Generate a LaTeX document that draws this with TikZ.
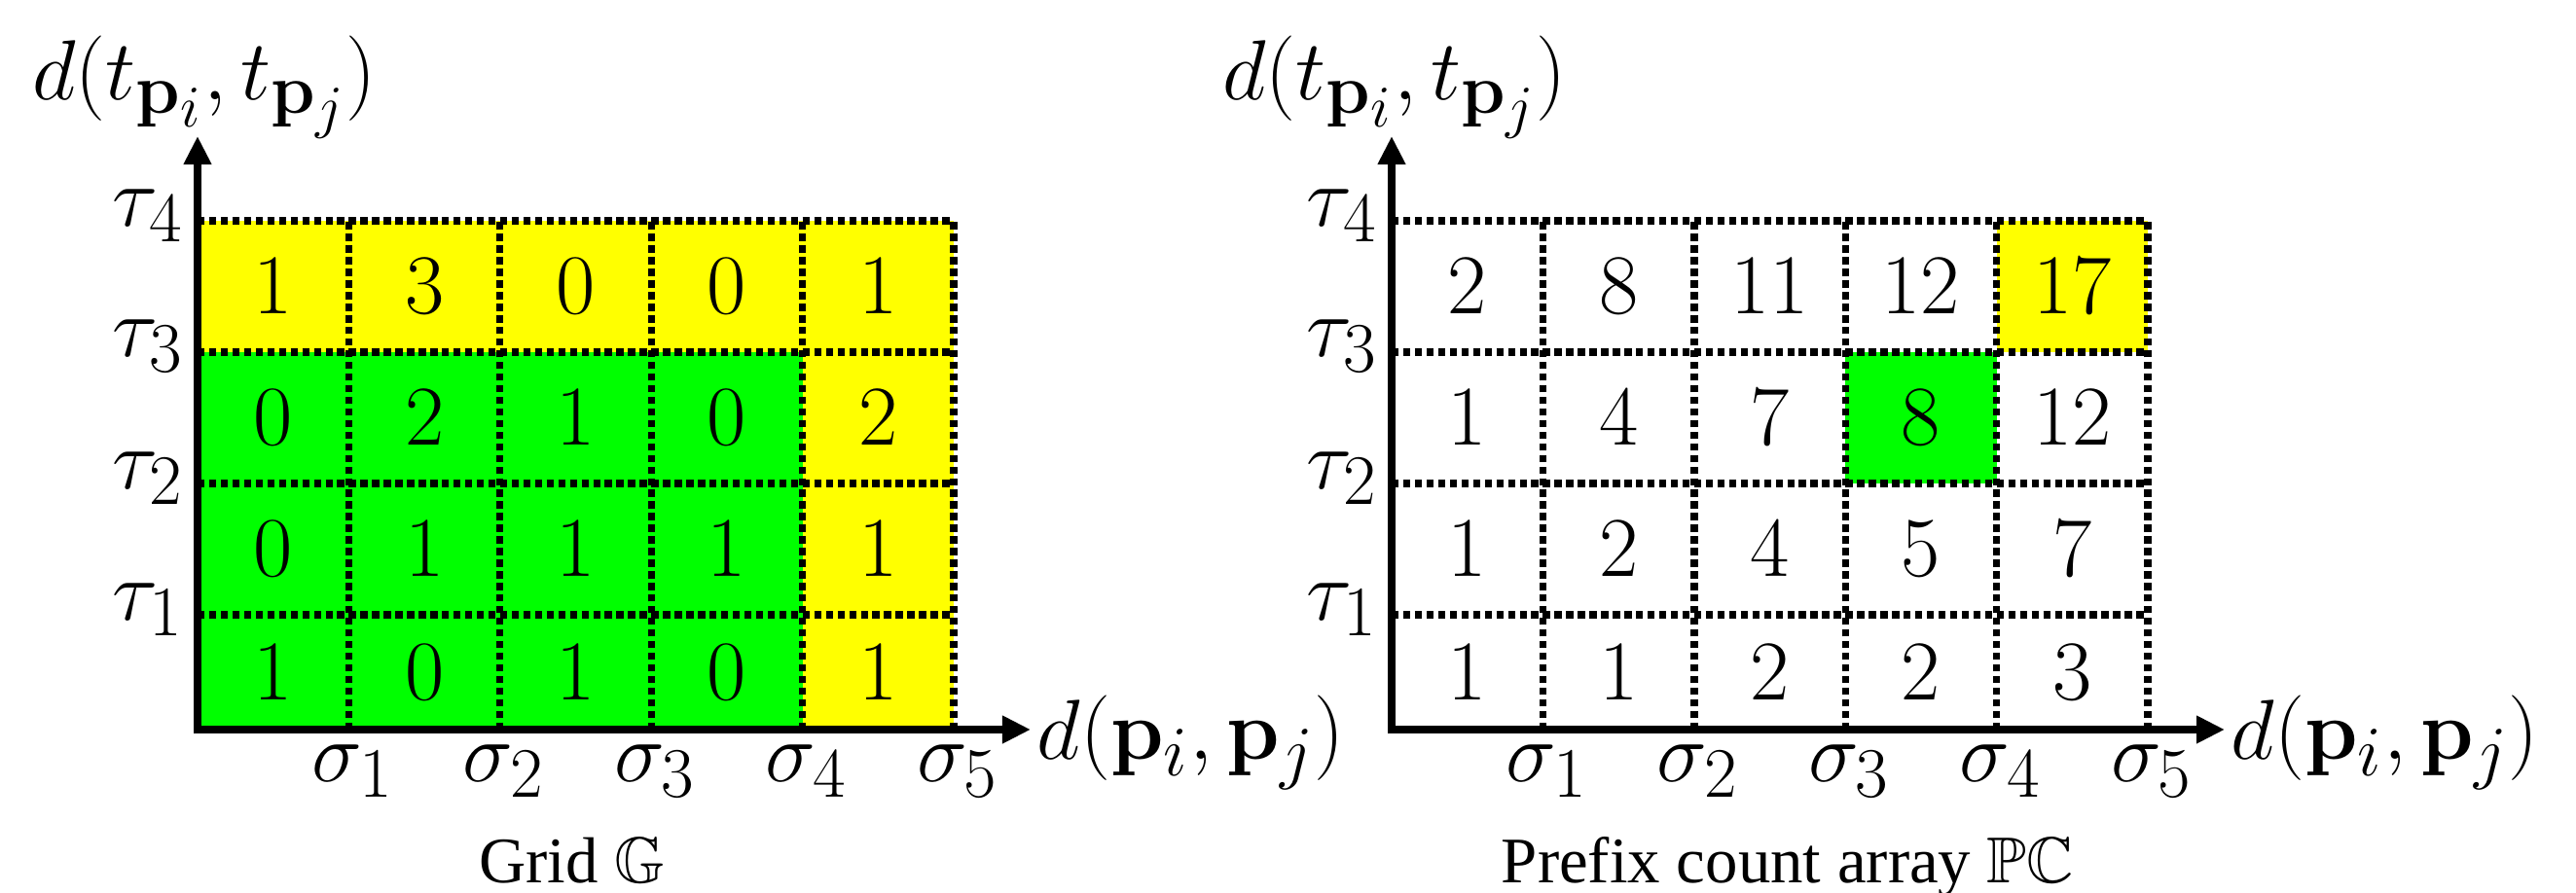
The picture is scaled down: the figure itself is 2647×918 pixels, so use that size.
\documentclass[tikz,border=0pt]{standalone}
\usepackage{amsmath,amssymb}
\usepackage[no-math]{fontspec}
\setmainfont{Liberation Serif}
\usetikzlibrary{arrows.meta}
\definecolor{cellyellow}{RGB}{255,255,0}
\definecolor{cellgreen}{RGB}{0,255,0}
\tikzset{
  lab/.style={inner sep=0pt, font=\fontsize{24.88}{29}\selectfont},
  cellnum/.style={inner sep=0pt, font=\fontsize{24.88}{29}\selectfont},
  capt/.style={inner sep=0pt, font=\fontsize{19}{23}\selectfont},
  gridline/.style={line width=2.1pt, dash pattern=on 2.1pt off 1.3pt},
  axis/.style={line width=2pt, {Triangle[length=0.29cm,width=0.27cm]}-{Triangle[length=0.29cm,width=0.27cm]}},
}
\begin{document}
\begin{tikzpicture}[x=0.01cm,y=-0.01cm]
\useasboundingbox (0,0) rectangle (2647,918);

% ---------------- Left: Grid G ----------------
\begin{scope}[shift={(203,0)}]
  \fill[cellyellow] (0,227) rectangle (777,362);
  \fill[cellyellow] (621.6,362) rectangle (777,750);
  \fill[cellgreen] (-3,362) rectangle (621.6,750);
  \foreach \k in {1,...,5} \draw[gridline] ({155.4*\k},750) -- ({155.4*\k},227);
  \foreach \yy in {632,497,362,227} \draw[gridline] (0,\yy) -- (777,\yy);
  \foreach \ym/\r/\vals in {294.5/4/{1,3,0,0,1},429.5/3/{0,2,1,0,2},564.5/2/{0,1,1,1,1},691/1/{1,0,1,0,1}}{
    \foreach \v [count=\c] in \vals
      \node[cellnum] (L\c\r) at ({155.4*(\c-0.5)},\ym) {$\v$};
  }
  \coordinate (Lo) at (0,750);
  \coordinate (Lxt) at (856,750);
  \coordinate (Lyt) at (0,140);
  \draw[axis] (Lyt) -- (Lo) -- (Lxt);
  \node[lab, anchor=base] (Lyl) at (7,103) {$d(t_{\mathbf{p}_i},t_{\mathbf{p}_j})$};
  \node[lab, anchor=base west] (Lxl) at (862,780) {$d(\mathbf{p}_i,\mathbf{p}_j)$};
  \foreach \yy/\t in {637/1,502/2,366/3,232/4}
    \node[lab, anchor=base east] (Lt\t) at (-14,\yy) {$\tau_{\t}$};
  \foreach \k in {1,...,5}
    \node[lab, anchor=base] (Ls\k) at ({155.4*\k+4},803) {$\sigma_{\k}$};
  \node[capt, anchor=base] (Lcap) at (385,907) {Grid $\mathbb{G}$};
\end{scope}

% ---------------- Right: Prefix count array PC ----------------
\begin{scope}[shift={(1430,0)}]
  \fill[cellyellow] (621.6,227) rectangle (777,362);
  \fill[cellgreen] (466.2,362) rectangle (621.6,497);
  \foreach \k in {1,...,5} \draw[gridline] ({155.4*\k},750) -- ({155.4*\k},227);
  \foreach \yy in {632,497,362,227} \draw[gridline] (0,\yy) -- (777,\yy);
  \foreach \ym/\r/\vals in {294.5/4/{2,8,11,12,17},429.5/3/{1,4,7,8,12},564.5/2/{1,2,4,5,7},691/1/{1,1,2,2,3}}{
    \foreach \v [count=\c] in \vals
      \node[cellnum] (R\c\r) at ({155.4*(\c-0.5)},\ym) {$\v$};
  }
  \coordinate (Ro) at (0,750);
  \coordinate (Rxt) at (856,750);
  \coordinate (Ryt) at (0,140);
  \draw[axis] (Ryt) -- (Ro) -- (Rxt);
  \node[lab, anchor=base] (Ryl) at (3,103) {$d(t_{\mathbf{p}_i},t_{\mathbf{p}_j})$};
  \node[lab, anchor=base west] (Rxl) at (862,780) {$d(\mathbf{p}_i,\mathbf{p}_j)$};
  \foreach \yy/\t in {637/1,502/2,366/3,232/4}
    \node[lab, anchor=base east] (Rt\t) at (-14,\yy) {$\tau_{\t}$};
  \foreach \k in {1,...,5}
    \node[lab, anchor=base] (Rs\k) at ({155.4*\k+4},803) {$\sigma_{\k}$};
  \node[capt, anchor=base] (Rcap) at (407,907) {Prefix count array $\mathbb{PC}$};
\end{scope}
\end{tikzpicture}
\end{document}
